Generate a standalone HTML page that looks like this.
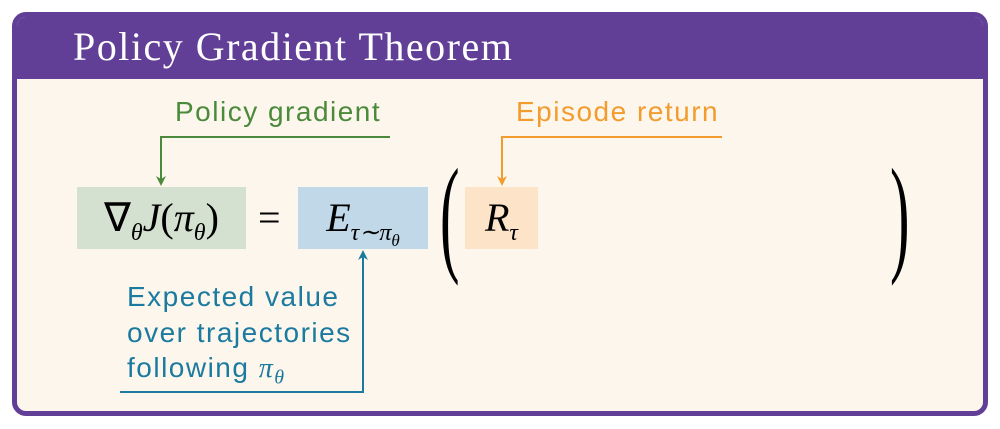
<!DOCTYPE html>
<html><head><meta charset="utf-8"><style>
body{margin:0;width:1000px;height:429px;background:#fff;position:relative;overflow:hidden;font-family:"Liberation Sans",sans-serif}
.outer{position:absolute;left:12px;top:12px;width:966px;height:394px;border:5px solid #613f97;border-radius:14px;background:#fdf6ec;overflow:hidden}
.hdr{position:absolute;left:0;top:0;width:100%;height:62px;background:#613f97;color:#fff;font-family:"Liberation Serif",serif;font-size:40px;letter-spacing:1.5px;line-height:60px;padding-left:56px;box-sizing:border-box}
.a{position:absolute}
.box{position:absolute;top:187px;height:62px;font-family:"Liberation Serif",serif;font-style:italic;font-size:40px;line-height:62px;text-align:center;color:#000;white-space:nowrap}
.lbl{position:absolute;font-size:28px;letter-spacing:1.5px}
sub{font-size:24px}
</style></head><body>
<div class="outer"><div class="hdr">Policy Gradient Theorem</div></div>
<div class="box" style="left:77px;width:169px;background:#d5e1d0"><span style="font-style:normal">∇</span><sub>θ</sub>J<span style="font-style:normal">(</span>π<sub>θ</sub><span style="font-style:normal">)</span></div>
<div class="a" style="left:258px;top:187px;font-family:'Liberation Serif',serif;font-size:40px;line-height:62px">=</div>
<div class="box" style="left:298px;width:130px;background:#c0d8e8">E<sub>τ∼π<sub style="font-size:17px">θ</sub></sub></div>
<div class="box" style="left:465px;width:73px;background:#fde3c8">R<sub>τ</sub></div>
<div class="a" style="left:440px;top:150px;font-family:'Liberation Serif',serif;font-size:130px;line-height:130px;transform:scaleX(0.45);transform-origin:left">(</div>
<div class="a" style="left:890px;top:150px;font-family:'Liberation Serif',serif;font-size:130px;line-height:130px;transform:scaleX(0.45);transform-origin:left">)</div>
<div class="lbl" style="left:175px;top:96px;color:#4a8a3a">Policy gradient</div>
<div class="lbl" style="left:516px;top:96px;color:#f39c2e">Episode return</div>
<div class="lbl" style="left:127px;top:279px;color:#1a7a9f;line-height:35.5px">Expected value<br>over trajectories<br>following <span style="font-family:'Liberation Serif',serif;font-style:italic">π<sub style="font-size:20px">θ</sub></span></div>
<svg class="a" style="left:0;top:0" width="1000" height="429">
<g fill="none" stroke-width="2">
<polyline points="390,137 161,137 161,180" stroke="#4a8a3a"/>
<polyline points="722,137 502,137 502,180" stroke="#f39c2e"/>
<polyline points="120,392 363,392 363,256" stroke="#1a7a9f"/>
</g>
<path d="M156,176 L161,186 L166,176 L161,179Z" fill="#4a8a3a"/>
<path d="M497,176 L502,186 L507,176 L502,179Z" fill="#f39c2e"/>
<path d="M358,260 L363,250 L368,260 L363,257Z" fill="#1a7a9f"/>
</svg>
</body></html>
